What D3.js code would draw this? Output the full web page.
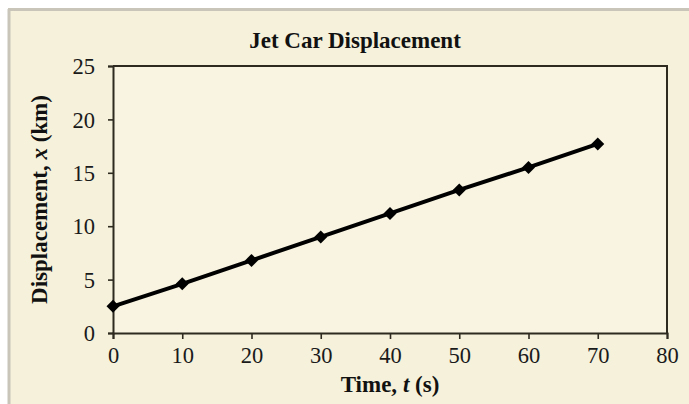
<!DOCTYPE html>
<html>
<head>
<meta charset="utf-8">
<script src="https://cdn.jsdelivr.net/npm/d3@7"></script>
<style>
  html, body { margin: 0; padding: 0; background: #ffffff; }
  svg { display: block; }
</style>
</head>
<body>
<svg id="chart" width="689" height="404"></svg>
<script>
// Jet car displacement over time
const times = [0, 10, 20, 30, 40, 50, 60, 70];          // s
const displacement = [2.5, 4.6, 6.8, 9.0, 11.2, 13.4, 15.5, 17.7]; // km
const xTicks = [0, 10, 20, 30, 40, 50, 60, 70, 80];
const yTicks = [0, 5, 10, 15, 20, 25];
const chartTitle = "Jet Car Displacement";

const svg = d3.select("#chart");
const W = 689, H = 404;
const margin = { left: 113, right: 22, top: 66, bottom: 71 };
const serif = "'Liberation Serif', 'DejaVu Serif', serif";

// cream panel with a grey edge on the top and left
svg.append("rect").attr("x", 0).attr("y", 0).attr("width", W).attr("height", H).attr("fill", "#ffffff");
svg.append("rect").attr("x", 8).attr("y", 9).attr("width", W - 8).attr("height", H - 9)
  .attr("fill", "#f5f1da");
svg.append("line").attr("x1", 8).attr("x2", W).attr("y1", 9.5).attr("y2", 9.5)
  .attr("stroke", "#c9c5b9").attr("stroke-width", 3);
svg.append("line").attr("x1", 9).attr("x2", 9).attr("y1", 9).attr("y2", H)
  .attr("stroke", "#c9c5b9").attr("stroke-width", 3);

const x = d3.scaleLinear().domain([0, 80]).range([margin.left, W - margin.right]);
const y = d3.scaleLinear().domain([0, 25]).range([H - margin.bottom, margin.top]);

// plot area
svg.append("rect")
  .attr("x", x(0)).attr("y", y(25))
  .attr("width", x(80) - x(0)).attr("height", y(0) - y(25))
  .attr("fill", "#f8f4e1");

// frame on top and right
svg.append("path")
  .attr("d", `M${x(0)},${y(25)}H${x(80)}V${y(0)}`)
  .attr("fill", "none").attr("stroke", "#2e2a20").attr("stroke-width", 2);

const xAxis = svg.append("g")
  .attr("transform", `translate(0,${y(0)})`)
  .call(d3.axisBottom(x).tickValues(xTicks).tickSize(6).tickPadding(8).tickFormat(d3.format("d")));
const yAxis = svg.append("g")
  .attr("transform", `translate(${x(0)},0)`)
  .call(d3.axisLeft(y).tickValues(yTicks).tickSize(5).tickPadding(13).tickFormat(d3.format("d")));

[xAxis, yAxis].forEach(g => {
  g.select(".domain").attr("stroke", "#2e2a20").attr("stroke-width", 2);
  g.selectAll(".tick line").attr("stroke", "#2e2a20").attr("stroke-width", 1.6);
  g.selectAll(".tick text")
    .attr("font-family", serif).attr("font-size", 22.5).attr("fill", "#1a1a1a");
});
yAxis.selectAll(".tick text").attr("dy", "0.34em");

// data line
const line = d3.line().x((d, i) => x(times[i])).y(d => y(d));
svg.append("path")
  .datum(displacement)
  .attr("d", line)
  .attr("fill", "none").attr("stroke", "#000").attr("stroke-width", 4)
  .attr("stroke-linejoin", "round");

// diamond markers
svg.selectAll(".pt")
  .data(displacement)
  .join("path")
  .attr("class", "pt")
  .attr("transform", (d, i) => `translate(${x(times[i])},${y(d)})`)
  .attr("d", "M0,-6.5L6.5,0L0,6.5L-6.5,0Z")
  .attr("fill", "#000");

// title
svg.append("text")
  .attr("x", 355).attr("y", 48)
  .attr("text-anchor", "middle")
  .attr("font-family", serif).attr("font-weight", "bold").attr("font-size", 23)
  .attr("fill", "#111")
  .text(chartTitle);

// x axis label
const xl = svg.append("text")
  .attr("x", 390).attr("y", 392)
  .attr("text-anchor", "middle")
  .attr("font-family", serif).attr("font-weight", "bold").attr("font-size", 23)
  .attr("fill", "#111");
xl.append("tspan").text("Time, ");
xl.append("tspan").attr("font-style", "italic").text("t");
xl.append("tspan").text(" (s)");

// y axis label
const yl = svg.append("text")
  .attr("transform", `translate(47,${(y(0) + y(25)) / 2}) rotate(-90)`)
  .attr("text-anchor", "middle")
  .attr("font-family", serif).attr("font-weight", "bold").attr("font-size", 23)
  .attr("fill", "#111");
yl.append("tspan").text("Displacement, ");
yl.append("tspan").attr("font-style", "italic").text("x");
yl.append("tspan").text(" (km)");
</script>
</body>
</html>
